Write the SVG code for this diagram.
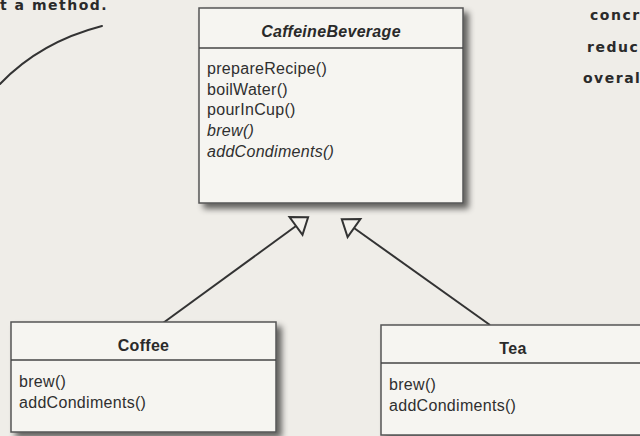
<svg xmlns="http://www.w3.org/2000/svg" width="640" height="436" viewBox="0 0 640 436">
<defs>
<filter id="shadow" x="-10%" y="-10%" width="130%" height="140%">
<feGaussianBlur in="SourceAlpha" stdDeviation="3"/>
<feOffset dx="5" dy="5" result="b"/>
<feComponentTransfer><feFuncA type="linear" slope="0.6"/></feComponentTransfer>
<feMerge><feMergeNode/><feMergeNode in="SourceGraphic"/></feMerge>
</filter>
</defs>
<style>
.box{fill:#f6f5f1;stroke:#555;stroke-width:1.5}
.div{stroke:#444;stroke-width:1.5}
.title{font-family:"Liberation Sans",Arial,sans-serif;font-size:16px;font-weight:bold;fill:#2a2a2a;text-anchor:middle;letter-spacing:0.3px}
.m{font-family:"Liberation Sans",Arial,sans-serif;font-size:16px;fill:#2f2f2f;letter-spacing:0.3px}
.it{font-style:italic}
.hand{font-family:"Comic Sans MS","DejaVu Sans",sans-serif;font-size:14px;font-weight:bold;fill:#2a2a2a;letter-spacing:1.5px}
.line{stroke:#333;stroke-width:2;fill:none}
.tri{stroke:#333;stroke-width:2;fill:#f3f1ec;stroke-linejoin:miter}
</style>
<rect width="640" height="436" fill="#efede8"/>
<g id="notes">
<text class="hand" x="0" y="10">t a method.</text>
<path d="M102 26 Q40 42 0 84" stroke="#333" stroke-width="2" fill="none" stroke-linecap="round"/>
<text class="hand" x="590" y="20">concr</text>
<text class="hand" x="587" y="52">reduc</text>
<text class="hand" x="583" y="83">overall</text>
</g>
<g id="connectors">
<line class="line" x1="163" y1="323" x2="296" y2="226"/>
<polygon class="tri" points="308.1,217.2 302.5,234.9 289.5,217.1"/>
<line class="line" x1="490" y1="325" x2="354" y2="228"/>
<polygon class="tri" points="341.8,219.3 360.4,219 347.6,237"/>
</g>
<g id="CaffeineBeverage">
<rect class="box" x="199" y="8" width="264" height="195" filter="url(#shadow)"/>
<line class="div" x1="199" y1="48" x2="463" y2="48"/>
<text class="title it" x="331" y="37">CaffeineBeverage</text>
<text class="m" x="207" y="74">prepareRecipe()</text>
<text class="m" x="207" y="94.5">boilWater()</text>
<text class="m" x="207" y="115">pourInCup()</text>
<text class="m it" x="207" y="136">brew()</text>
<text class="m it" x="207" y="157">addCondiments()</text>
</g>
<g id="Coffee">
<rect class="box" x="11" y="322" width="265" height="110" filter="url(#shadow)"/>
<line class="div" x1="11" y1="360" x2="276" y2="360"/>
<text class="title" x="143.5" y="351">Coffee</text>
<text class="m" x="19" y="387">brew()</text>
<text class="m" x="19" y="408">addCondiments()</text>
</g>
<g id="Tea">
<rect class="box" x="381" y="325" width="265" height="110" filter="url(#shadow)"/>
<line class="div" x1="381" y1="363" x2="646" y2="363"/>
<text class="title" x="513" y="354">Tea</text>
<text class="m" x="389" y="390">brew()</text>
<text class="m" x="389" y="411">addCondiments()</text>
</g>
</svg>
